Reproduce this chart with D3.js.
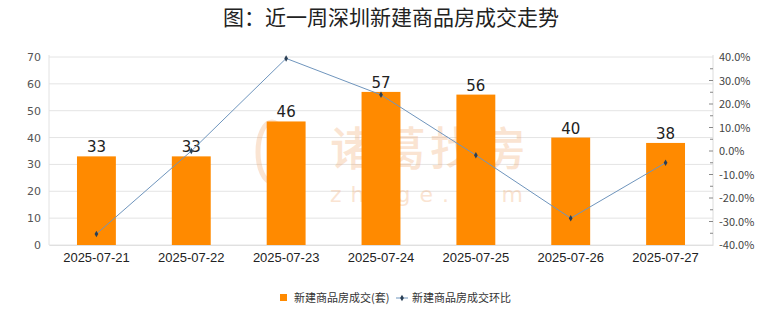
<!DOCTYPE html>
<html>
<head>
<meta charset="utf-8">
<script src="https://cdn.jsdelivr.net/npm/d3@7/dist/d3.min.js"></script>
<style>
  html, body { margin: 0; padding: 0; background: #fff; }
  svg { display: block; font-family: "Noto Sans CJK SC", "Noto Sans", sans-serif; }
</style>
</head>
<body>
<svg id="chart" width="780" height="328"></svg>
<script>
// Weekly new-home transactions in Shenzhen
const dates = ["2025-07-21", "2025-07-22", "2025-07-23", "2025-07-24", "2025-07-25", "2025-07-26", "2025-07-27"];
const units = [33, 33, 46, 57, 56, 40, 38];
// day-over-day change, percent
const change = [-35.3, 0.0, 39.4, 23.9, -1.8, -28.6, -5.0];
const leftTicks = [0, 10, 20, 30, 40, 50, 60, 70];
const rightTicks = [-40, -30, -20, -10, 0, 10, 20, 30, 40];

const title = "图：近一周深圳新建商品房成交走势";
const barName = "新建商品房成交(套)";
const lineName = "新建商品房成交环比";

const svg = d3.select("#chart");
const margin = { left: 49, right: 67, top: 57, bottom: 83 };
const W = 780, H = 328;
const plotW = W - margin.left - margin.right;
const plotH = H - margin.top - margin.bottom;

const x = d3.scaleBand().domain(dates).range([margin.left, margin.left + plotW]).paddingInner(0.59).paddingOuter(0.295);
const xPoint = d => x(d) + x.bandwidth() / 2;
const yL = d3.scaleLinear().domain([0, 70]).range([margin.top + plotH, margin.top]);
const yR = d3.scaleLinear().domain([-40, 40]).range([margin.top + plotH, margin.top]);

// title
svg.append("text")
  .attr("x", 391).attr("y", 25)
  .attr("text-anchor", "middle")
  .attr("font-size", 21).attr("font-weight", 400)
  .attr("fill", "#222")
  .text(title);

// grid lines
svg.append("g").selectAll("line").data(leftTicks).join("line")
  .attr("x1", margin.left).attr("x2", margin.left + plotW)
  .attr("y1", d => yL(d)).attr("y2", d => yL(d))
  .attr("stroke", "#e4e4e4").attr("stroke-width", 1);

// plot edges
svg.append("line")
  .attr("x1", margin.left).attr("x2", margin.left)
  .attr("y1", margin.top - 2).attr("y2", margin.top + plotH)
  .attr("stroke", "#e2e2e2");
svg.append("line")
  .attr("x1", margin.left + plotW).attr("x2", margin.left + plotW)
  .attr("y1", margin.top - 2).attr("y2", margin.top + plotH)
  .attr("stroke", "#dcdcdc");

// watermark
const wm = svg.append("g").attr("opacity", 0.28);
wm.append("ellipse").attr("cx", 272).attr("cy", 152).attr("rx", 14).attr("ry", 30)
  .attr("fill", "none").attr("stroke", "#f0a060").attr("stroke-width", 5);
wm.append("text").attr("x", 330).attr("y", 165).attr("font-size", 46).attr("font-weight", 500)
  .attr("fill", "#f0a060").attr("letter-spacing", 4).text("诸葛找房");
wm.append("text").attr("x", 330).attr("y", 202).attr("font-size", 22)
  .attr("font-family", "'DejaVu Sans', sans-serif")
  .attr("fill", "#f0a060").attr("letter-spacing", 9).text("zhuge.com");

// bars
svg.append("g").selectAll("rect").data(units).join("rect")
  .attr("x", (d, i) => x(dates[i]))
  .attr("y", d => yL(d))
  .attr("width", x.bandwidth())
  .attr("height", d => yL(0) - yL(d))
  .attr("fill", "#ff8a00");

// bar value labels
svg.append("g").selectAll("text").data(units).join("text")
  .attr("x", (d, i) => xPoint(dates[i]))
  .attr("y", d => yL(d) - 4)
  .attr("text-anchor", "middle")
  .attr("font-size", 15)
  .attr("font-family", "'DejaVu Sans', sans-serif")
  .attr("fill", "#222")
  .text(d => d);

// left axis
const axL = d3.axisLeft(yL).tickValues(leftTicks).tickSize(0).tickPadding(8);
svg.append("g").attr("transform", `translate(${margin.left},0)`).call(axL)
  .call(g => g.select(".domain").remove())
  .call(g => g.selectAll("text").attr("font-size", 11).attr("fill", "#555")
    .attr("font-family", "'DejaVu Sans', sans-serif"));

// right axis: major ticks every 10%, minor in between
const rx = margin.left + plotW;
const minor = d3.range(-35, 40, 10);
svg.append("g").selectAll("line").data(minor).join("line")
  .attr("x1", rx - 3).attr("x2", rx)
  .attr("y1", d => yR(d)).attr("y2", d => yR(d))
  .attr("stroke", "#888");
const axR = d3.axisRight(yR).tickValues(rightTicks).tickSize(0).tickPadding(6)
  .tickFormat(d => d.toFixed(1) + "%");
svg.append("g").attr("transform", `translate(${rx},0)`).call(axR)
  .call(g => g.select(".domain").remove())
  .call(g => g.selectAll("text").attr("font-size", 11).attr("fill", "#444")
    .attr("font-family", "'Noto Sans CJK JP', sans-serif"));
svg.append("g").selectAll("line").data(rightTicks.slice(1, -1)).join("line")
  .attr("x1", rx - 4).attr("x2", rx)
  .attr("y1", d => yR(d)).attr("y2", d => yR(d))
  .attr("stroke", "#888");

// x axis labels
const axX = d3.axisBottom(x).tickSize(0).tickPadding(8);
svg.append("g").attr("transform", `translate(0,${margin.top + plotH})`).call(axX)
  .call(g => g.select(".domain").attr("stroke", "#e0e0e0"))
  .call(g => g.selectAll("text").attr("font-size", 13).attr("fill", "#222")
    .attr("font-family", "'Liberation Sans Narrow', 'Liberation Sans', sans-serif"));

// change line
const line = d3.line().x((d, i) => xPoint(dates[i])).y(d => yR(d));
svg.append("path").datum(change)
  .attr("d", line)
  .attr("fill", "none")
  .attr("stroke", "#6f95bd")
  .attr("stroke-width", 1);
svg.append("g").selectAll("path").data(change).join("path")
  .attr("transform", (d, i) => `translate(${xPoint(dates[i])},${yR(d)})`)
  .attr("d", d3.symbol(d3.symbolDiamond, 12)())
  .attr("fill", "#2a3f55");

// legend
const lg = svg.append("g").attr("transform", "translate(0,298)");
lg.append("rect").attr("x", 280).attr("y", -4).attr("width", 7).attr("height", 7).attr("fill", "#ff8a00");
lg.append("text").attr("x", 294).attr("y", 4).attr("font-size", 11).attr("fill", "#333").text(barName);
lg.append("line").attr("x1", 396).attr("x2", 408).attr("y1", 0).attr("y2", 0).attr("stroke", "#6f95bd");
lg.append("path").attr("transform", "translate(402,0)").attr("d", d3.symbol(d3.symbolDiamond, 12)()).attr("fill", "#2a3f55");
lg.append("text").attr("x", 412).attr("y", 4).attr("font-size", 11).attr("fill", "#333").text(lineName);
</script>
</body>
</html>
